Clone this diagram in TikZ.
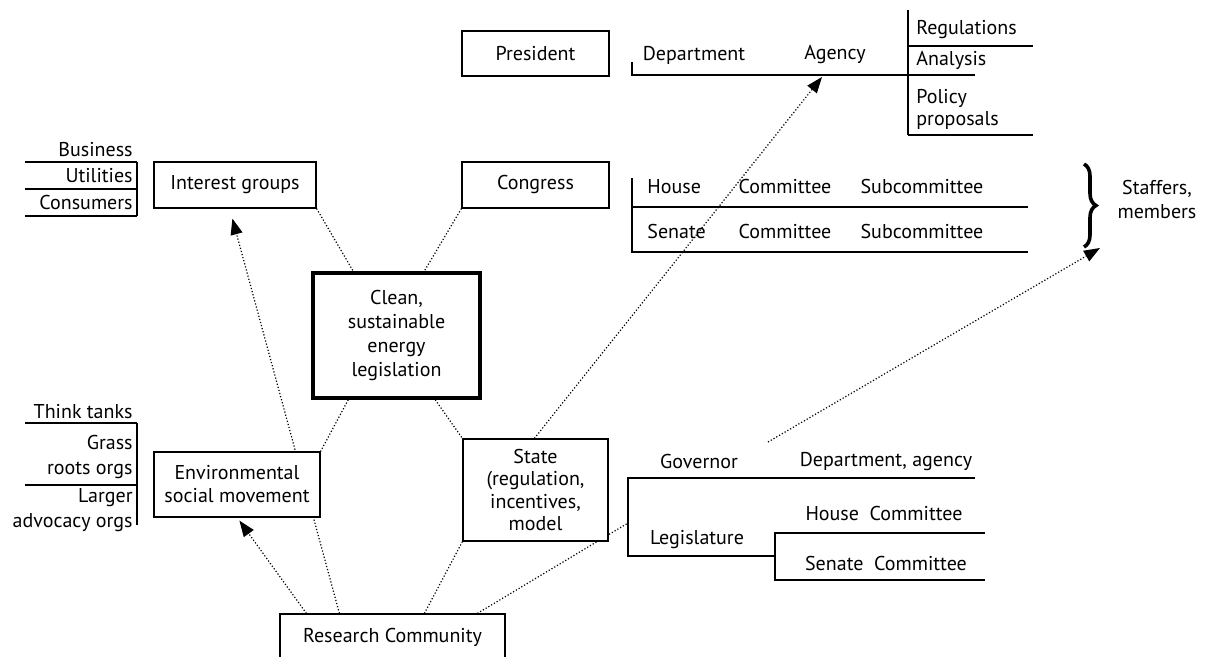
\documentclass[tikz,border=0pt]{standalone}
\usepackage{fontspec}
\setmainfont{PT Sans}
\usetikzlibrary{arrows.meta,backgrounds,calc,decorations.pathreplacing}
\begin{document}
\begin{tikzpicture}[x=0.5pt,y=-0.5pt, font=\fontsize{10}{12}\selectfont,
  box/.style={draw, fill=white, line width=0.6pt, inner sep=0pt, align=center},
  rulel/.style={line width=0.6pt},
  link/.style={densely dotted, line width=0.6pt},
  arr/.style={link, -{Triangle[length=8pt,width=6pt]}},
  lbl/.style={inner sep=0pt, anchor=center, align=center},
  rlbl/.style={inner sep=0pt, anchor=east, align=right},
  llbl/.style={inner sep=0pt, anchor=west, align=left}]
\useasboundingbox (0,0) rectangle (1206,657);

% ---- boxes ----
\node[box, minimum width=73.5pt, minimum height=22.5pt] (president) at (535.5,53.5) {President};
\node[box, minimum width=81pt, minimum height=23pt] (interest) at (235,185) {Interest groups};
\node[box, minimum width=73.5pt, minimum height=23pt] (congress) at (535.5,185) {Congress};
\node[box, line width=1.75pt, minimum width=83.5pt, minimum height=62.5pt] (clean) at (396.5,335.5)
  {Clean,\\sustainable\\energy\\legislation};
\node[box, minimum width=83pt, minimum height=32.5pt, font=\fontsize{10}{11.5}\selectfont] (env) at (237,484.5)
  {Environmental\\social movement};
\node[box, minimum width=72.5pt, minimum height=51pt, font=\fontsize{10}{11.25}\selectfont] (state) at (535.5,490)
  {State\\(regulation,\\incentives,\\model};
\node[box, minimum width=112.5pt, minimum height=23pt] (research) at (392.5,637) {Research Community};

% ---- left lists ----
\node[rlbl] (business) at (133,150) {Business};
\node[rlbl] (utilities) at (133,176) {Utilities};
\node[rlbl] (consumers) at (133,203) {Consumers};
\draw[rulel] (25,162) -- (137,162) (25,189) -- (137,189) (25,216) -- (137,216) (137,162) -- (137,216);

\node[rlbl] (think) at (133,412) {Think tanks};
\node[rlbl, font=\fontsize{10}{12.5}\selectfont] (grass) at (133,457) {Grass\\roots orgs};
\node[rlbl, font=\fontsize{10}{12.5}\selectfont] (larger) at (133,510) {Larger\\advocacy orgs};
\draw[rulel] (25,423) -- (137,423) (25,485) -- (137,485) (137,423) -- (137,525);

% ---- executive branch ----
\node[lbl] (dept) at (694,55) {Department};
\node[lbl] (agency) at (835,55) {Agency};
\draw[rulel] (632,62) -- (632,75) -- (975,75);
\draw[rulel] (908,10) -- (908,135);
\node[llbl] (regs) at (916,30) {Regulations};
\node[llbl] (analysis) at (916,60) {Analysis};
\node[llbl, font=\fontsize{10}{11}\selectfont] (policy) at (916,109) {Policy\\proposals};
\draw[rulel] (908,46) -- (1033,46) (908,135) -- (1033,135);

% ---- congress ----
\node[llbl] (house) at (647,187) {House};
\node[lbl] (hcomm) at (785,187) {Committee};
\node[lbl] (hsub) at (922,187) {Subcommittee};
\node[llbl] (senate) at (647,232) {Senate};
\node[lbl] (scomm) at (785,232) {Committee};
\node[lbl] (ssub) at (922,232) {Subcommittee};
\draw[rulel] (632,178) -- (632,252) -- (1028,252) (632,207) -- (1028,207);
\draw[decorate, decoration={brace, amplitude=6pt}, line width=1.8pt] (1084,164) -- (1084,247);
\node[lbl] (staff) at (1157,200) {Staffers,\\members};

% ---- state level ----
\node[lbl] (governor) at (699,462) {Governor};
\node[lbl] (gdept) at (886,462) {Department, agency};
\draw[rulel] (975,478) -- (628,478) -- (628,556) -- (775,556);
\node[lbl] (legis) at (697,540) {Legislature};
\node[lbl] (shouse) at (884,514) {House\ \ Committee};
\node[lbl] (ssenate) at (886,564) {Senate\ \ Committee};
\draw[rulel] (985,533) -- (775,533) -- (775,580) -- (985,580);

% ---- free ends ----
\coordinate (legv) at (628,523);
\coordinate (agencytip) at (822,77);
\coordinate (govfrom) at (768,442);
\coordinate (stafftip) at (1100,248);

% ---- connectors ----
\begin{scope}[on background layer]
\draw[arr] ([xshift=30pt]research.north west) -- ([xshift=39.5pt,yshift=-5pt]interest.south west);
\draw[arr] ([xshift=13.5pt]research.north west) -- ([xshift=43pt,yshift=-1.5pt]env.south west);
\draw[link] (interest.south east) -- ([xshift=21pt]clean.north west);
\draw[link] (congress.south west) -- ([xshift=56.5pt]clean.north west);
\draw[link] ([xshift=18.5pt]clean.south west) -- (env.north east);
\draw[link] ([xshift=62pt]clean.south west) -- (state.north west);
\draw[link] ([xshift=72.5pt]research.north west) -- (state.south west);
\draw[link] ([xshift=99pt]research.north west) -- (legv);
\draw[arr] ([xshift=36pt]state.north west) -- (agencytip);
\draw[arr] (govfrom) -- (stafftip);
\end{scope}
\end{tikzpicture}
\end{document}
